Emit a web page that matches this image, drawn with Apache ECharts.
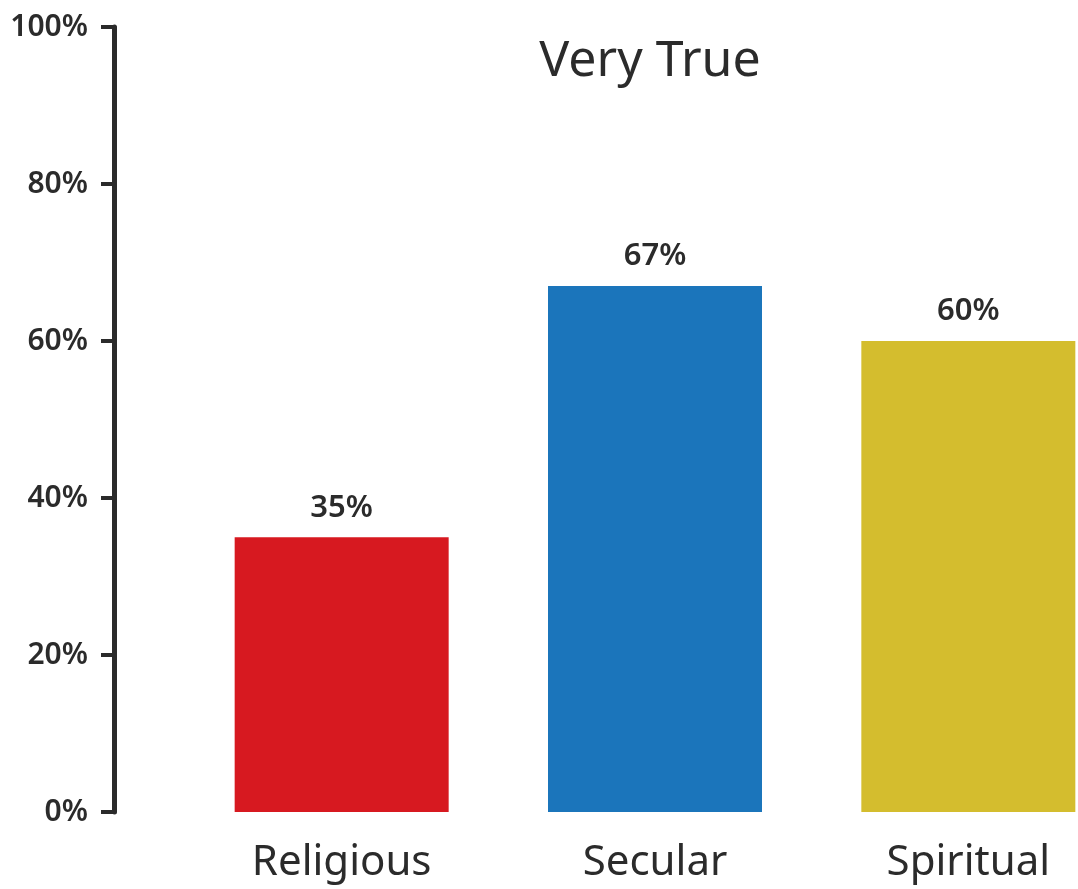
<!DOCTYPE html>
<html>
<head>
<meta charset="utf-8">
<script src="https://cdn.jsdelivr.net/npm/echarts@6/dist/echarts.min.js"></script>
<style>
  html, body { margin: 0; padding: 0; background: #ffffff; }
  #chart { width: 1078px; height: 889px; }
</style>
</head>
<body>
<div id="chart"></div>
<script>
// Share answering "Very True", by group
const categories = ['Religious', 'Secular', 'Spiritual'];
const values = [35, 67, 60];
const barColors = ['#d71920', '#1b75bb', '#d4bd2e'];
const yTicks = [0, 20, 40, 60, 80, 100];

const textColor = '#2b2b2b';
const fontFamily = '"Noto Sans", "DejaVu Sans", sans-serif';

const chart = echarts.init(document.getElementById('chart'), null, { renderer: 'canvas' });

chart.setOption({
  backgroundColor: '#ffffff',
  animation: false,
  title: {
    text: 'Very True',
    left: 645,
    top: 32,
    textAlign: 'center',
    textStyle: { color: textColor, fontSize: 50, fontWeight: 'normal', fontFamily: fontFamily }
  },
  // the plot area runs past the right edge, so the last bar is clipped by the canvas
  grid: { left: 185, width: 940, top: 27, bottom: 77, outerBoundsMode: 'none', containLabel: false },
  xAxis: {
    type: 'category',
    data: categories,
    axisLine: { show: false },
    axisTick: { show: false },
    axisLabel: { color: textColor, fontSize: 42, fontFamily: fontFamily, margin: 30 }
  },
  yAxis: {
    type: 'value',
    min: yTicks[0],
    max: yTicks[yTicks.length - 1],
    interval: yTicks[1] - yTicks[0],
    offset: 71,
    splitLine: { show: false },
    axisLine: { show: true, lineStyle: { color: '#2b2b2b', width: 5 } },
    axisTick: { show: true, length: 13, lineStyle: { color: '#2b2b2b', width: 4 } },
    axisLabel: {
      color: textColor, fontSize: 30, fontWeight: 600, fontFamily: fontFamily, margin: 26,
      formatter: function (v) { return v + '%'; }
    }
  },
  series: [{
    type: 'bar',
    barWidth: 214,
    data: values.map(function (v, i) { return { value: v, itemStyle: { color: barColors[i] } }; }),
    label: {
      show: true,
      position: 'top',
      distance: 14,
      color: textColor,
      fontSize: 31,
      fontWeight: 600,
      fontFamily: fontFamily,
      formatter: function (p) { return p.value + '%'; }
    }
  }]
});
</script>
</body>
</html>
